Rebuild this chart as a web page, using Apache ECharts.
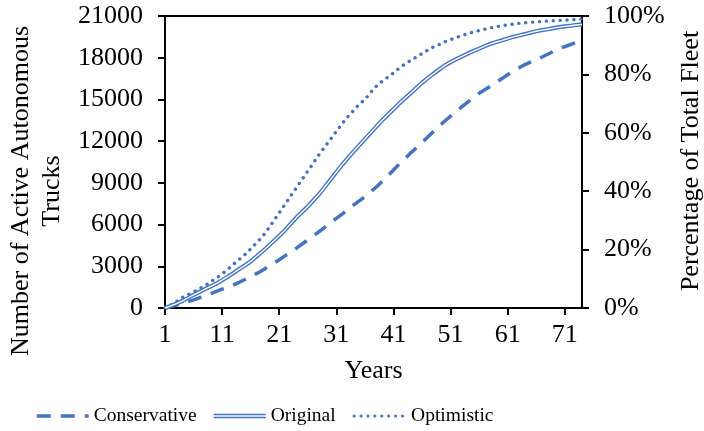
<!DOCTYPE html>
<html><head><meta charset="utf-8">
<script src="https://cdn.jsdelivr.net/npm/echarts@6/dist/echarts.min.js"></script>
<style>html,body{margin:0;padding:0;background:#fff}#c{width:704px;height:431px}</style>
</head><body><div id="c"></div>
<script>
const years = [1,2,3,4,5,6,7,8,9,10,11,12,13,14,15,16,17,18,19,20,21,22,23,24,25,26,27,28,29,30,31,32,33,34,35,36,37,38,39,40,41,42,43,44,45,46,47,48,49,50,51,52,53,54,55,56,57,58,59,60,61,62,63,64,65,66,67,68,69,70,71,72,73,74];

const conservative = [0,100,210,330,450,580,730,880,1040,1200,1350,1500,1670,1850,2050,2250,2470,2700,2950,3200,3470,3750,4020,4300,4600,4900,5200,5500,5820,6150,6450,6750,7080,7400,7700,8000,8350,8700,9100,9500,9930,10350,10750,11150,11520,11900,12300,12700,13080,13450,13800,14150,14480,14800,15130,15450,15700,15950,16230,16500,16780,17050,17280,17500,17680,17850,18050,18250,18450,18650,18800,18950,19100,19250];

const original = [0,150,320,500,720,950,1150,1350,1550,1750,2000,2250,2520,2800,3070,3350,3700,4050,4420,4800,5200,5600,6050,6500,6900,7300,7750,8200,8720,9250,9780,10300,10780,11250,11700,12150,12600,13050,13480,13900,14300,14700,15080,15450,15830,16200,16530,16850,17150,17450,17680,17900,18100,18300,18480,18650,18830,19000,19130,19250,19380,19500,19600,19700,19800,19900,19980,20050,20130,20200,20250,20300,20350,20400];

const optimistic = [0,200,450,750,950,1150,1380,1600,1880,2150,2450,2800,3150,3500,3850,4250,4680,5100,5650,6250,6850,7450,8050,8650,9250,9850,10450,11050,11600,12150,12700,13250,13750,14200,14650,15000,15500,15950,16300,16600,16900,17250,17550,17800,18050,18300,18550,18780,18950,19150,19300,19450,19600,19730,19850,19950,20050,20150,20230,20300,20360,20420,20470,20510,20550,20580,20610,20640,20660,20680,20700,20730,20760,20780];

const leftTicks = {min: 0, max: 21000, interval: 3000};
const rightTicks = {min: 0, max: 100, interval: 20};

const BLUE = '#4472C4';
const FONT = 'Liberation Serif';
const chart = echarts.init(document.getElementById('c'), null, {renderer: 'canvas'});
const axisText = {color: '#000', fontFamily: FONT, fontSize: 26};

chart.setOption({
  animation: false,
  backgroundColor: '#fff',
  grid: {left: 165, right: 122, top: 16, bottom: 123, show: true, borderColor: '#000', borderWidth: 2, backgroundColor: 'transparent'},
  xAxis: {
    type: 'category', data: years, boundaryGap: false,
    axisLine: {lineStyle: {color: '#000', width: 2}},
    axisTick: {interval: 9, length: 7, lineStyle: {color: '#000', width: 2}},
    axisLabel: Object.assign({interval: 9, margin: 14}, axisText),
    name: 'Years', nameLocation: 'middle', nameGap: 50, nameTextStyle: axisText,
    splitLine: {show: false}
  },
  yAxis: [
    {type: 'value', min: leftTicks.min, max: leftTicks.max, interval: leftTicks.interval,
     axisLine: {show: true, lineStyle: {color: '#000', width: 2}},
     axisTick: {show: true, length: 7, lineStyle: {color: '#000', width: 2}},
     axisLabel: Object.assign({margin: 22, formatter: function (v) { return String(v); }}, axisText),
     splitLine: {show: false}},
    {type: 'value', position: 'right', min: rightTicks.min, max: rightTicks.max, interval: rightTicks.interval,
     axisLine: {show: true, lineStyle: {color: '#000', width: 2}},
     axisTick: {show: true, length: 7, lineStyle: {color: '#000', width: 2}},
     axisLabel: Object.assign({margin: 22, formatter: '{value}%'}, axisText),
     splitLine: {show: false}}
  ],
  legend: {
    left: 30, top: 401, itemWidth: 52, itemHeight: 14, itemGap: 17,
    textStyle: {color: '#000', fontFamily: FONT, fontSize: 19.5},
    data: [
      {name: 'Conservative', itemStyle: {opacity: 0}, lineStyle: {width: 3.5}},
      {name: 'Original', icon: 'path://M0,0H50V1.3H0Z M0,2.9H50V4.2H0Z', itemStyle: {color: BLUE}},
      {name: 'Optimistic', itemStyle: {opacity: 0}, lineStyle: {width: 3}}
    ]
  },
  graphic: [
    {type: 'text', x: 37, y: 191, rotation: Math.PI / 2,
     style: {text: 'Number of Active Autonomous\nTrucks', font: '26px "Liberation Serif"', fill: '#000', align: 'center', verticalAlign: 'middle', lineHeight: 31}},
    {type: 'text', x: 691, y: 161, rotation: Math.PI / 2,
     style: {text: 'Percentage of Total Fleet', font: '26px "Liberation Serif"', fill: '#000', align: 'center', verticalAlign: 'middle'}}
  ],
  series: [
    {name: 'Conservative', type: 'line', data: conservative, symbol: 'none', smooth: false,
     lineStyle: {color: BLUE, width: 3.5, type: [14, 10]}, itemStyle: {color: BLUE}},
    {name: 'Original', type: 'line', data: original, symbol: 'none', z: 3,
     lineStyle: {color: BLUE, width: 4.2}, itemStyle: {color: BLUE}},
    {name: 'Original-inner', type: 'line', data: original, symbol: 'none', z: 4, silent: true,
     lineStyle: {color: '#ffffff', width: 1.4}, itemStyle: {color: '#ffffff'}},
    {name: 'Optimistic', type: 'line', data: optimistic, symbol: 'none',
     lineStyle: {color: BLUE, width: 3.4, type: [0.1, 6.8], cap: 'round'}, itemStyle: {color: BLUE}}
  ]
});
</script>
</body></html>
